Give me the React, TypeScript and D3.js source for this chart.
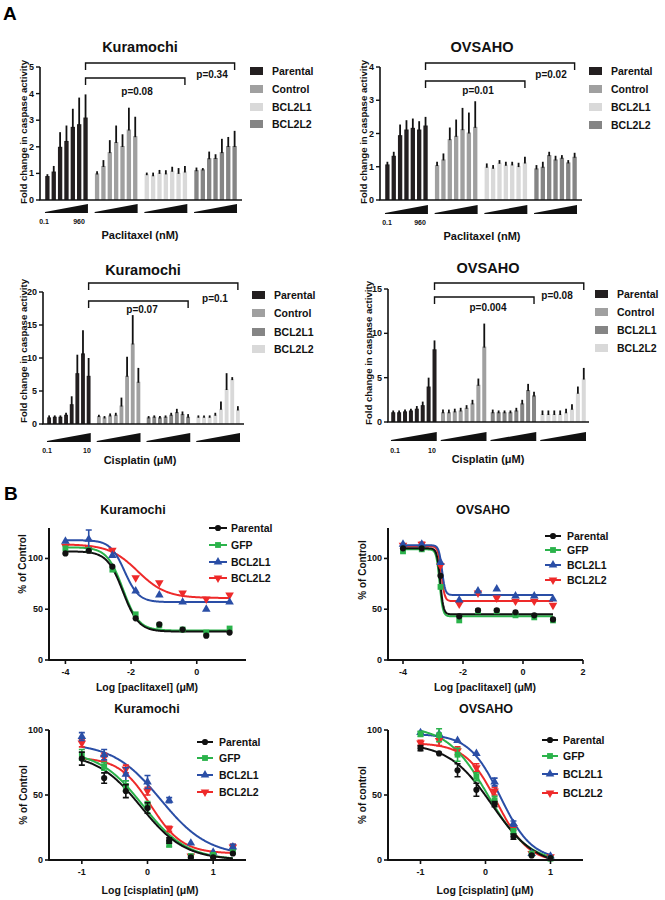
import React from "react";
import * as d3 from "d3";

const FONT = "'Liberation Sans', Arial, Helvetica, sans-serif";

// ---------- Panel A data (bar heights = mean, errTop = mean + SD) ----------
const pacLabels = ["Parental", "Control", "BCL2L1", "BCL2L2"];
const cisLabels = ["Parental", "Control", "BCL2L1", "BCL2L2"];
const pacColors = ["#231f20", "#a0a0a0", "#d9d9d9", "#858585"];
const cisColors = ["#231f20", "#a0a0a0", "#858585", "#d9d9d9"];

const kuraPacMean = [
  [0.9, 1.07, 2.0, 2.22, 2.75, 2.85, 3.1],
  [1.0, 1.28, 1.8, 2.18, 2.03, 2.65, 2.4],
  [0.97, 0.93, 1.02, 1.0, 1.1, 1.02, 1.07],
  [1.12, 1.15, 1.57, 1.58, 1.8, 2.03, 2.03],
];
const kuraPacErrTop = [
  [0.97, 1.28, 2.55, 2.8, 3.43, 3.85, 3.97],
  [1.08, 1.5, 2.25, 2.8, 2.47, 3.47, 3.13],
  [1.03, 1.03, 1.13, 1.12, 1.25, 1.2, 1.28],
  [1.22, 1.2, 1.82, 1.72, 2.3, 2.37, 2.6],
];
const ovsPacMean = [
  [1.07, 1.33, 1.95, 2.12, 2.17, 2.12, 2.24],
  [1.05, 1.22, 1.83, 1.93, 2.13, 2.03, 2.2],
  [1.0, 0.97, 1.12, 1.06, 1.07, 1.02, 1.13],
  [0.95, 1.0, 1.35, 1.22, 1.27, 1.13, 1.3],
];
const ovsPacErrTop = [
  [1.15, 1.45, 2.27, 2.4, 2.45, 2.37, 2.5],
  [1.15, 1.4, 2.18, 2.42, 2.77, 2.63, 2.97],
  [1.1, 1.05, 1.2, 1.15, 1.15, 1.12, 1.3],
  [1.05, 1.15, 1.45, 1.33, 1.35, 1.2, 1.42],
];
const kuraCisMean = [
  [1.0, 1.1, 1.1, 1.4, 3.0, 7.7, 10.7, 7.3],
  [1.2, 1.0, 1.3, 1.4, 2.8, 7.3, 12.2, 6.4],
  [1.0, 1.1, 1.0, 1.1, 1.4, 1.8, 1.5, 1.1],
  [1.1, 1.1, 1.1, 1.4, 2.3, 5.3, 6.8, 2.2],
];
const kuraCisErrTop = [
  [1.3, 1.3, 1.3, 1.7, 4.2, 10.5, 14.2, 10.0],
  [1.4, 1.2, 1.6, 1.7, 4.0, 10.2, 16.5, 8.5],
  [1.2, 1.3, 1.2, 1.3, 1.7, 2.3, 1.9, 1.5],
  [1.3, 1.3, 1.3, 1.7, 3.4, 7.7, 7.1, 2.7],
];
const ovsCisMean = [
  [1.1, 1.1, 1.2, 1.3, 1.5, 1.9, 4.0, 8.2],
  [1.1, 1.1, 1.2, 1.3, 1.6, 2.1, 4.2, 8.5],
  [1.1, 1.1, 1.1, 1.1, 1.3, 2.1, 3.6, 3.0],
  [0.9, 0.9, 0.9, 0.9, 1.1, 1.5, 3.3, 4.9],
];
const ovsCisErrTop = [
  [1.3, 1.3, 1.4, 1.5, 1.8, 2.3, 5.0, 9.2],
  [1.4, 1.4, 1.5, 1.6, 1.9, 2.5, 4.9, 11.1],
  [1.4, 1.3, 1.3, 1.3, 1.6, 2.5, 4.3, 3.4],
  [1.3, 1.3, 1.3, 1.3, 1.5, 2.0, 4.0, 6.1],
];

// ---------- Panel B data ----------
const seriesNames = ["Parental", "GFP", "BCL2L1", "BCL2L2"];
const seriesColors = ["#111111", "#2bb34b", "#2a4ea6", "#ee2a2a"];
const seriesShapes = ["circle", "square", "up", "down"];

const kuraPacX = [-4, -3.29, -2.57, -1.86, -1.14, -0.43, 0.29, 1.0];
const kuraPacY = [
  [105, 107.6, 92, 41, 35, 30, 24, 27],
  [110, 108.6, 89, 45, 34, 30, 27, 31],
  [117, 119, 103, 68, 64, 57, 50, 57],
  [112, 110, 108, 81, 76, 66, 60, 64],
];
const kuraPacE = [
  [1, 1, 1, 1, 1, 1, 1, 1],
  [1, 1, 1, 1, 1, 1, 1, 1],
  [1, 9, 1, 1, 1, 1, 1, 1],
  [1, 1, 1, 1, 1, 1, 1, 1],
];
// fit params: [top, bottom, logEC50, hill]
const kuraPacFit = [
  [107, 28, -2.25, 1.8],
  [111, 29, -2.25, 1.8],
  [118, 57, -2.2, 2.0],
  [114, 61, -1.8, 1.0],
];

const ovsPacX = [-4, -3.375, -2.75, -2.125, -1.5, -0.875, -0.25, 0.375, 1.0];
const ovsPacY = [
  [110, 110, 83, 43, 49, 49, 47, 44, 40],
  [107, 109, 72, 39, 48, 48, 44, 42, 39],
  [114, 114, 96, 59, 68, 70, 63, 63, 60],
  [113, 114, 93, 55, 66, 61, 58, 58, 54],
];
const ovsPacE = [
  [1, 1, 1, 1, 1, 1, 1, 1, 1],
  [1, 1, 1, 1, 1, 1, 1, 1, 1],
  [1, 1, 1, 1, 1, 1, 1, 1, 1],
  [1, 2, 1, 1, 1, 1, 1, 1, 1],
];
const ovsPacFit = [
  [110, 45, -2.76, 8],
  [109, 43, -2.78, 8],
  [113, 64, -2.7, 8],
  [112, 58, -2.72, 8],
];

const kuraCisX = [-1, -0.66, -0.33, 0, 0.33, 0.66, 1, 1.3];
const kuraCisY = [
  [78, 63, 53, 40, 15, 2, 2, 5],
  [81, 72, 57, 42, 12, 3, 4, 6],
  [95, 81, 66, 60, 46, 13, 6, 10],
  [90, 79, 70, 53, 24, 3, 5, 10],
];
const kuraCisE = [
  [5, 4, 5, 4, 2, 1, 1, 1],
  [4, 3, 4, 3, 2, 1, 1, 1],
  [3, 4, 5, 5, 2, 1, 1, 2],
  [3, 3, 3, 3, 2, 1, 1, 2],
];
const kuraCisFit = [
  [82, 0, -0.1, 1.3],
  [84, 0, -0.07, 1.3],
  [90, 3, 0.2, 1.2],
  [79, 5, 0.05, 1.8],
];

const ovsCisX = [-1, -0.714, -0.43, -0.14, 0.14, 0.43, 0.71, 1.0];
const ovsCisY = [
  [86, 82, 69, 54, 43, 18, 3.5, 1.5],
  [97, 96, 81, 64, 46, 22, 5, 1],
  [98, 97, 92, 82, 60, 28, 5, 3],
  [90, 92, 84, 71, 53, 25, 5, 2.5],
];
const ovsCisE = [
  [2, 1, 5, 5, 2, 2, 1, 1],
  [2, 5, 5, 3, 3, 2, 1, 1],
  [1, 1, 1, 1, 3, 2, 1, 1],
  [2, 4, 3, 3, 3, 2, 1, 1],
];
const ovsCisFit = [
  [90, -5, 0.1, 1.3],
  [103, -2, 0.03, 1.4],
  [97, 0, 0.23, 1.8],
  [90, -2, 0.18, 1.8],
];

// ---------- Components ----------
type BarCfg = {
  title: string; titleX: number; titleY: number;
  x0: number; x1: number; y0: number; yTop: number; max: number; step: number;
  pi: number; po: number;
  mean: number[][]; errTop: number[][]; colors: string[]; labels: string[];
  legX: number; legTextX: number; legY: number[];
  brOuterY: number; brInnerY: number; pOuter: string; pInner: string;
  pOuterPos: number[]; pInnerPos: number[];
  wedgeBottom: number; doseLabels: string[]; dosePos: number[]; doseY: number;
  xlabel: string; xlabelX: number; xlabelY: number; ylabX: number; ylabY: number;
};

function BarPanel({ c }: { c: BarCfg }) {
  const y = d3.scaleLinear().domain([0, c.max]).range([c.y0, c.yTop]);
  const gx = d3.scaleBand<number>().domain(d3.range(4)).range([c.x0, c.x1]).paddingInner(c.pi).paddingOuter(c.po);
  const n = c.mean[0].length;
  const bx = d3.scaleBand<number>().domain(d3.range(n)).range([0, gx.bandwidth()]).paddingInner(0.32).paddingOuter(0.04);
  const ticks = d3.range(0, c.max + 0.001, c.step);
  const lastCenter = (g: number) => (gx(g) as number) + (bx(n - 1) as number) + bx.bandwidth() / 2;
  const xa = lastCenter(0);
  const legLen = 7;
  const bracket = (g: number, yb: number) => `M${xa},${yb + legLen}V${yb}H${lastCenter(g)}V${yb + legLen}`;
  return (
    <g fontFamily={FONT} fontWeight="bold" fill="#111">
      <text x={c.titleX} y={c.titleY} textAnchor="middle" dominantBaseline="central" fontSize={14.5}>{c.title}</text>
      {c.mean.map((series, g) =>
        series.map((v, i) => {
          const x = (gx(g) as number) + (bx(i) as number);
          const cx = x + bx.bandwidth() / 2;
          return (
            <g key={`${g}-${i}`}>
              <rect x={x} y={y(v)} width={bx.bandwidth()} height={c.y0 - y(v)} fill={c.colors[g]} />
              <line x1={cx} x2={cx} y1={y(v) + 1} y2={y(c.errTop[g][i])} stroke="#111" strokeWidth={1.8} />
            </g>
          );
        })
      )}
      <line x1={c.x0} x2={c.x0} y1={c.y0} y2={c.yTop} stroke="#111" strokeWidth={1.6} />
      <line x1={c.x0 - 0.8} x2={c.x1} y1={c.y0} y2={c.y0} stroke="#111" strokeWidth={1.6} />
      {ticks.map((t) => (
        <g key={t}>
          <line x1={c.x0 - 4} x2={c.x0} y1={y(t)} y2={y(t)} stroke="#111" strokeWidth={1.4} />
          <text x={c.x0 - 6} y={y(t)} textAnchor="end" dominantBaseline="central" fontSize={9}>{t}</text>
        </g>
      ))}
      <text transform={`translate(${c.ylabX},${c.ylabY}) rotate(-90)`} textAnchor="middle" dominantBaseline="central" fontSize={9.6}>
        Fold change in caspase activity
      </text>
      <path d={bracket(3, c.brOuterY)} fill="none" stroke="#111" strokeWidth={1.4} />
      <path d={bracket(2, c.brInnerY)} fill="none" stroke="#111" strokeWidth={1.4} />
      <text x={c.pOuterPos[0]} y={c.pOuterPos[1]} textAnchor="middle" dominantBaseline="central" fontSize={10}>{c.pOuter}</text>
      <text x={c.pInnerPos[0]} y={c.pInnerPos[1]} textAnchor="middle" dominantBaseline="central" fontSize={10}>{c.pInner}</text>
      {d3.range(4).map((g) => {
        const a = gx(g) as number;
        const b = a + gx.bandwidth();
        const yb = c.wedgeBottom;
        return <path key={g} d={`M${a},${yb - 1}L${b},${yb - 9}L${b},${yb}L${a},${yb}Z`} fill="#111" />;
      })}
      {c.doseLabels.map((t, i) => (
        <text key={t} x={c.dosePos[i]} y={c.doseY} textAnchor="middle" dominantBaseline="central" fontSize={7}>{t}</text>
      ))}
      <text x={c.xlabelX} y={c.xlabelY} textAnchor="middle" dominantBaseline="central" fontSize={11}>{c.xlabel}</text>
      {c.labels.map((l, i) => (
        <g key={l}>
          <rect x={c.legX} y={c.legY[i] - 4} width={13} height={8} fill={c.colors[i]} />
          <text x={c.legTextX} y={c.legY[i]} dominantBaseline="central" fontSize={10.5}>{l}</text>
        </g>
      ))}
    </g>
  );
}

type CurveCfg = {
  title: string; titleX: number; titleY: number;
  x0: number; x1: number; y0: number; yTop: number;
  xDom: number[]; yMax: number; xTicks: number[]; yTicks: number[];
  xs: number[]; ys: number[][]; es: number[][]; fits: number[][];
  legLine: number[]; legTextX: number; legY: number[];
  ylabel: string; ylabX: number; ylabY: number;
  xlabel: string; xlabelX: number; xlabelY: number;
};

function symbolPath(shape: string) {
  if (shape === "circle") return d3.symbol().type(d3.symbolCircle).size(30)() as string;
  if (shape === "square") return d3.symbol().type(d3.symbolSquare).size(34)() as string;
  return d3.symbol().type(d3.symbolTriangle).size(32)() as string;
}

function CurvePanel({ c }: { c: CurveCfg }) {
  const x = d3.scaleLinear().domain(c.xDom).range([c.x0, c.x1]);
  const y = d3.scaleLinear().domain([0, c.yMax]).range([c.y0, c.yTop]);
  const xMin = d3.min(c.xs) as number;
  const xMax = d3.max(c.xs) as number;
  const samples = d3.range(0, 301).map((i) => xMin + ((xMax - xMin) * i) / 300);
  const fitFn = (p: number[]) => (v: number) => p[1] + (p[0] - p[1]) / (1 + Math.pow(10, (v - p[2]) * p[3]));
  const order = [3, 2, 1, 0];
  return (
    <g fontFamily={FONT} fontWeight="bold" fill="#111">
      <text x={c.titleX} y={c.titleY} textAnchor="middle" dominantBaseline="central" fontSize={12.5}>{c.title}</text>
      {order.map((s) => {
        const f = fitFn(c.fits[s]);
        const line = d3.line<number>().x((v) => x(v)).y((v) => y(Math.max(0, f(v))));
        return <path key={`c${s}`} d={line(samples) as string} fill="none" stroke={seriesColors[s]} strokeWidth={2} />;
      })}
      {order.map((s) =>
        c.xs.map((xv, i) => {
          const px = x(xv);
          const py = y(c.ys[s][i]);
          const e = c.es[s][i];
          const shape = seriesShapes[s];
          return (
            <g key={`p${s}-${i}`}>
              {e > 1.5 && (
                <path
                  d={`M${px},${y(c.ys[s][i] - e)}V${y(c.ys[s][i] + e)}M${px - 3},${y(c.ys[s][i] + e)}H${px + 3}M${px - 3},${y(c.ys[s][i] - e)}H${px + 3}`}
                  stroke={seriesColors[s]} strokeWidth={1.6} fill="none"
                />
              )}
              <path d={symbolPath(shape)} transform={`translate(${px},${py})${shape === "down" ? " rotate(180)" : ""}`} fill={seriesColors[s]} />
            </g>
          );
        })
      )}
      <line x1={c.x0} x2={c.x0} y1={c.y0 + 0.8} y2={c.yTop} stroke="#111" strokeWidth={2} />
      <line x1={c.x0} x2={c.x1} y1={c.y0} y2={c.y0} stroke="#111" strokeWidth={2} />
      {c.yTicks.map((t) => (
        <g key={`y${t}`}>
          <line x1={c.x0 - 4} x2={c.x0} y1={y(t)} y2={y(t)} stroke="#111" strokeWidth={1.6} />
          <text x={c.x0 - 6} y={y(t)} textAnchor="end" dominantBaseline="central" fontSize={9}>{t}</text>
        </g>
      ))}
      {c.xTicks.map((t) => (
        <g key={`x${t}`}>
          <line x1={x(t)} x2={x(t)} y1={c.y0} y2={c.y0 + 4} stroke="#111" strokeWidth={1.6} />
          <text x={x(t)} y={c.y0 + 12} textAnchor="middle" dominantBaseline="central" fontSize={9}>{t}</text>
        </g>
      ))}
      <text transform={`translate(${c.ylabX},${c.ylabY}) rotate(-90)`} textAnchor="middle" dominantBaseline="central" fontSize={10}>
        {c.ylabel}
      </text>
      <text x={c.xlabelX} y={c.xlabelY} textAnchor="middle" dominantBaseline="central" fontSize={10.5}>{c.xlabel}</text>
      {seriesNames.map((nm, i) => {
        const mx = (c.legLine[0] + c.legLine[1]) / 2;
        const shape = seriesShapes[i];
        return (
          <g key={nm}>
            <line x1={c.legLine[0]} x2={c.legLine[1]} y1={c.legY[i]} y2={c.legY[i]} stroke={seriesColors[i]} strokeWidth={2} />
            <path d={symbolPath(shape)} transform={`translate(${mx},${c.legY[i]})${shape === "down" ? " rotate(180)" : ""}`} fill={seriesColors[i]} />
            <text x={c.legTextX} y={c.legY[i]} dominantBaseline="central" fontSize={10.5}>{nm}</text>
          </g>
        );
      })}
    </g>
  );
}

const barPanels: BarCfg[] = [
  {
    title: "Kuramochi", titleX: 140, titleY: 47, x0: 40, x1: 242, y0: 200, yTop: 67, max: 5, step: 1,
    pi: 0.135, po: 0.1, mean: kuraPacMean, errTop: kuraPacErrTop, colors: pacColors, labels: pacLabels,
    legX: 250, legTextX: 272, legY: [71, 89, 107, 124],
    brOuterY: 63, brInnerY: 78, pOuter: "p=0.34", pInner: "p=0.08", pOuterPos: [212, 74], pInnerPos: [137, 91],
    wedgeBottom: 213, doseLabels: ["0.1", "960"], dosePos: [44, 79], doseY: 221,
    xlabel: "Paclitaxel (nM)", xlabelX: 140, xlabelY: 235, ylabX: 23, ylabY: 132,
  },
  {
    title: "OVSAHO", titleX: 482, titleY: 47, x0: 380, x1: 582, y0: 200, yTop: 67, max: 4, step: 1,
    pi: 0.135, po: 0.1, mean: ovsPacMean, errTop: ovsPacErrTop, colors: pacColors, labels: pacLabels,
    legX: 589, legTextX: 611, legY: [71, 89, 107, 125],
    brOuterY: 63, brInnerY: 81, pOuter: "p=0.02", pInner: "p=0.01", pOuterPos: [551, 74], pInnerPos: [478, 90],
    wedgeBottom: 214, doseLabels: ["0.1", "960"], dosePos: [387, 420], doseY: 222,
    xlabel: "Paclitaxel (nM)", xlabelX: 482, xlabelY: 236, ylabX: 363, ylabY: 132,
  },
  {
    title: "Kuramochi", titleX: 143, titleY: 270, x0: 43, x1: 244, y0: 424, yTop: 292, max: 20, step: 5,
    pi: 0.12, po: 0.08, mean: kuraCisMean, errTop: kuraCisErrTop, colors: cisColors, labels: cisLabels,
    legX: 252, legTextX: 274, legY: [295, 313, 332, 349],
    brOuterY: 283, brInnerY: 301, pOuter: "p=0.1", pInner: "p=0.07", pOuterPos: [215, 298], pInnerPos: [142, 309],
    wedgeBottom: 442, doseLabels: ["0.1", "10"], dosePos: [47, 87], doseY: 450,
    xlabel: "Cisplatin (μM)", xlabelX: 140, xlabelY: 460, ylabX: 23, ylabY: 351,
  },
  {
    title: "OVSAHO", titleX: 488, titleY: 268, x0: 388, x1: 589, y0: 422, yTop: 289, max: 15, step: 5,
    pi: 0.08, po: 0.06, mean: ovsCisMean, errTop: ovsCisErrTop, colors: cisColors, labels: cisLabels,
    legX: 595, legTextX: 617, legY: [294, 312, 330, 348],
    brOuterY: 283, brInnerY: 297, pOuter: "p=0.08", pInner: "p=0.004", pOuterPos: [557, 295], pInnerPos: [488, 307],
    wedgeBottom: 441, doseLabels: ["0.1", "10"], dosePos: [395, 432], doseY: 450,
    xlabel: "Cisplatin (μM)", xlabelX: 488, xlabelY: 459, ylabX: 368, ylabY: 353,
  },
];

const curvePanels: CurveCfg[] = [
  {
    title: "Kuramochi", titleX: 133, titleY: 510, x0: 49, x1: 246, y0: 660, yTop: 528,
    xDom: [-4.5, 1.5], yMax: 130, xTicks: [-4, -2, 0], yTicks: [0, 50, 100],
    xs: kuraPacX, ys: kuraPacY, es: kuraPacE, fits: kuraPacFit,
    legLine: [209, 227], legTextX: 231, legY: [528, 545, 562, 578],
    ylabel: "% of Control", ylabX: 22, ylabY: 564, xlabel: "Log [paclitaxel] (μM)", xlabelX: 147, xlabelY: 687,
  },
  {
    title: "OVSAHO", titleX: 483, titleY: 510, x0: 388, x1: 583, y0: 660, yTop: 528,
    xDom: [-4.5, 2], yMax: 130, xTicks: [-4, -2, 0, 2], yTicks: [0, 50, 100],
    xs: ovsPacX, ys: ovsPacY, es: ovsPacE, fits: ovsPacFit,
    legLine: [545, 561], legTextX: 567, legY: [536, 550, 565, 580],
    ylabel: "% of Control", ylabX: 362, ylabY: 570, xlabel: "Log [paclitaxel] (μM)", xlabelX: 485, xlabelY: 687,
  },
  {
    title: "Kuramochi", titleX: 147, titleY: 709, x0: 49, x1: 246, y0: 860, yTop: 730,
    xDom: [-1.5, 1.5], yMax: 100, xTicks: [-1, 0, 1], yTicks: [0, 50, 100],
    xs: kuraCisX, ys: kuraCisY, es: kuraCisE, fits: kuraCisFit,
    legLine: [197, 213], legTextX: 219, legY: [742, 758, 775, 792],
    ylabel: "% of Control", ylabX: 23, ylabY: 795, xlabel: "Log [cisplatin] (μM)", xlabelX: 150, xlabelY: 890,
  },
  {
    title: "OVSAHO", titleX: 486, titleY: 709, x0: 388, x1: 583, y0: 860, yTop: 730,
    xDom: [-1.5, 1.5], yMax: 100, xTicks: [-1, 0, 1], yTicks: [0, 50, 100],
    xs: ovsCisX, ys: ovsCisY, es: ovsCisE, fits: ovsCisFit,
    legLine: [542, 558], legTextX: 563, legY: [740, 756, 774, 793],
    ylabel: "% of control", ylabX: 362, ylabY: 795, xlabel: "Log [cisplatin] (μM)", xlabelX: 485, xlabelY: 890,
  },
];

export default function App() {
  return (
    <svg width={665} height={900} style={{ position: "absolute", left: 0, top: 0, background: "#fff" }}>
      <rect width={665} height={900} fill="#fff" />
      <text x={3} y={20} fontFamily={FONT} fontWeight="bold" fontSize={19}>A</text>
      <text x={4} y={500} fontFamily={FONT} fontWeight="bold" fontSize={19}>B</text>
      {barPanels.map((c, i) => <BarPanel key={i} c={c} />)}
      {curvePanels.map((c, i) => <CurvePanel key={i} c={c} />)}
    </svg>
  );
}
